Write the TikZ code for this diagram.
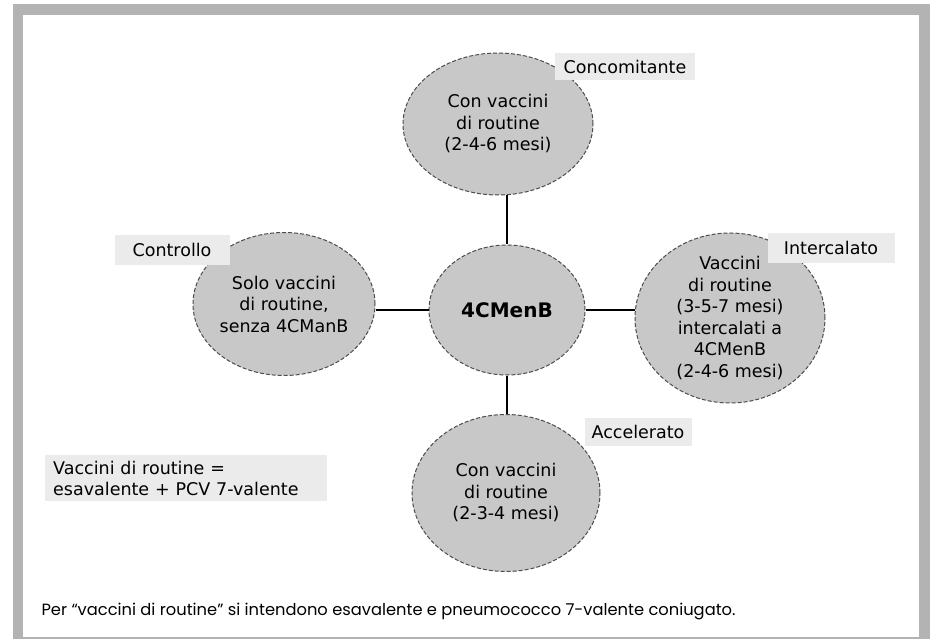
\documentclass[tikz,border=0pt]{standalone}
\usepackage{fontspec}
\setmainfont{DejaVu Sans}
\newfontfamily\capfont{Poppins}
\usetikzlibrary{shapes.geometric}
\definecolor{framegray}{HTML}{B3B3B3}
\definecolor{blobgray}{HTML}{C8C8C8}
\definecolor{taggray}{HTML}{EBEBEB}
\tikzset{blob/.style={ellipse,draw=black!70,line width=1pt,dash pattern=on 4pt off 2pt,fill=blobgray,inner sep=0pt},
	txt/.style={align=center,font=\fontsize{17.5}{21.5}\selectfont},
	tag/.style={fill=taggray,inner sep=0pt,align=left,font=\fontsize{17.5}{21}\selectfont},
	link/.style={line width=1.8pt}}

\begin{document}
\begin{tikzpicture}[x=1pt,y=-1pt]
	\useasboundingbox (0,0) rectangle (930,639);
	\fill[framegray] (13,4) rectangle (930,639);
	\fill[white] (23,15) rectangle (919,637);
	\node[blob,minimum width=190,minimum height=142] (conc) at (498,124) {};
	\node[blob,minimum width=156,minimum height=130] (hub) at (507,310) {};
	\node[blob,minimum width=182,minimum height=143] (ctrl) at (284,304) {};
	\node[blob,minimum width=190,minimum height=170] (inter) at (730,318) {};
	\node[blob,minimum width=188,minimum height=157] (accel) at (506,493) {};
	\draw[link] (hub.north) -- (hub.north |- conc.south);
	\draw[link] (hub.south) -- (hub.south |- accel.north);
	\draw[link] (hub.west) -- (hub.west -| ctrl.east);
	\draw[link] (hub.east) -- (hub.east -| inter.west);
	\node[txt,font=\bfseries\fontsize{20}{22}\selectfont] (hubtxt) at (hub) {4CMenB};
	\node[txt] (conctxt) at (conc) {Con vaccini\\di routine\\(2-4-6 mesi)};
	\node[txt] (ctrltxt) at (ctrl) {Solo vaccini\\di routine,\\senza 4CManB};
	\node[txt] (intertxt) at (inter) {Vaccini\\di routine\\(3-5-7 mesi)\\intercalati a\\4CMenB\\(2-4-6 mesi)};
	\node[txt] (acceltxt) at (accel) {Con vaccini\\di routine\\(2-3-4 mesi)};
	\node[tag,minimum width=140,minimum height=27] (conctag) at (625,67) {Concomitante};
	\node[tag,minimum width=115,minimum height=30] (ctrltag) at (172,250) {Controllo};
	\node[tag,minimum width=127,minimum height=30] (intertag) at (831,248) {Intercalato};
	\node[tag,minimum width=107,minimum height=28] (acceltag) at (638,432) {Accelerato};
	\node[tag,anchor=west,text width=266pt,inner xsep=8pt,inner ysep=6pt] (legend) at (45,478) {Vaccini di routine =\\esavalente + PCV 7-valente};
	\node[anchor=west,font=\capfont\fontsize{16.3}{19}\selectfont] (note) at (38,611) {Per “vaccini di routine” si intendono esavalente e pneumococco 7-valente coniugato.};
\end{tikzpicture}
\end{document}
